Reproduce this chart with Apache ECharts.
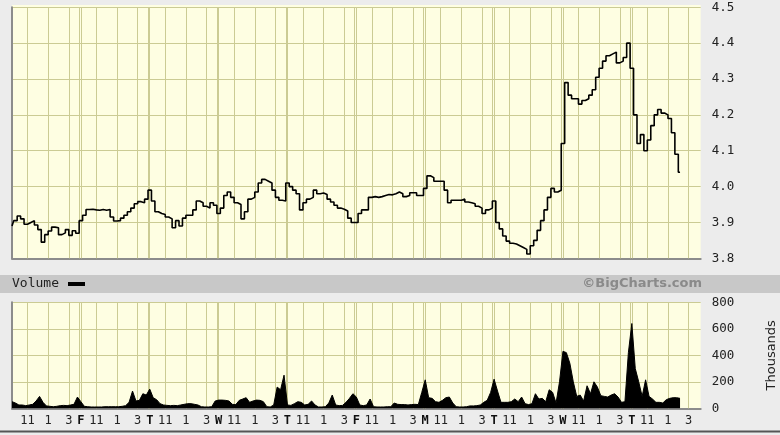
<!DOCTYPE html>
<html><head><meta charset="utf-8">
<script src="https://cdn.jsdelivr.net/npm/echarts@6/dist/echarts.min.js"></script>
<style>html,body{margin:0;padding:0;background:#ececec;}#c{width:780px;height:435px;}</style>
</head><body><div id="c"></div>
<script>
// ---- time structure (minutes after 9:30 open) ----
const sessionMinutes = 390;
const daySpan = 400;           // session + small overnight gap
const barMinutes = 20;
const hourTickMinutes = [90, 210, 330];
const hourTickLabels = ['11', '1', '3'];
const dayLetters = ['F', 'T', 'W', 'T', 'F', 'M', 'T', 'W', 'T']; // days 2..10
const priceTicks = [3.8, 4.5, 0.1];
const volumeTicks = [0, 800, 200];

// ---- price per day (20-minute samples) ----
const priceDays = [
  [3.89,3.905,3.918,3.91,3.895,3.90,3.905,3.893,3.88,3.845,3.866,3.876,3.887,3.885,3.866,3.871,3.88,3.864,3.877,3.87],
  [3.905,3.92,3.936,3.937,3.935,3.934,3.936,3.934,3.936,3.915,3.904,3.905,3.912,3.92,3.93,3.94,3.952,3.958,3.955,3.965],
  [3.99,3.96,3.93,3.925,3.922,3.915,3.91,3.885,3.905,3.89,3.912,3.92,3.92,3.935,3.96,3.955,3.945,3.94,3.955,3.948],
  [3.925,3.94,3.975,3.985,3.97,3.955,3.95,3.91,3.93,3.965,3.97,3.985,4.01,4.02,4.015,4.01,3.99,3.97,3.962,3.96],
  [4.01,4.0,3.99,3.98,3.935,3.955,3.965,3.97,3.99,3.98,3.982,3.978,3.965,3.957,3.948,3.94,3.937,3.932,3.912,3.90],
  [3.90,3.925,3.935,3.935,3.97,3.972,3.97,3.972,3.975,3.978,3.977,3.98,3.985,3.98,3.972,3.975,3.983,3.983,3.975,3.975],
  [3.995,4.03,4.025,4.015,4.015,4.015,3.99,3.955,3.962,3.962,3.962,3.965,3.957,3.955,3.952,3.945,3.94,3.925,3.935,3.94],
  [3.96,3.90,3.882,3.862,3.848,3.842,3.84,3.835,3.83,3.825,3.812,3.835,3.85,3.878,3.905,3.935,3.97,3.995,3.985,3.99],
  [4.12,4.29,4.255,4.245,4.245,4.23,4.24,4.245,4.255,4.27,4.305,4.33,4.35,4.365,4.37,4.375,4.345,4.35,4.36,4.40],
  [4.33,4.2,4.12,4.145,4.1,4.13,4.17,4.2,4.215,4.205,4.2,4.19,4.15,4.09,4.04]
];

// ---- volume per day, thousands (20-minute samples) ----
const volumeDays = [
  [50,40,25,25,20,25,30,55,90,45,18,15,12,15,20,22,20,25,30,85],
  [50,15,12,10,10,10,10,12,12,12,12,12,15,20,45,130,55,60,110,100],
  [145,80,65,35,25,22,20,22,20,25,30,35,35,30,25,12,10,10,12,55],
  [62,62,60,55,30,28,60,70,80,45,55,62,60,50,12,10,25,160,140,250],
  [25,22,35,50,45,25,30,55,25,10,10,12,40,100,25,20,22,45,75,110],
  [85,25,20,25,70,12,10,10,10,12,12,40,30,28,28,25,28,30,28,120],
  [215,80,75,50,45,60,80,85,40,12,10,10,12,18,18,20,25,45,60,120],
  [220,130,45,45,45,50,70,50,85,35,28,35,110,70,75,50,140,120,40,200],
  [430,420,340,200,90,100,55,170,110,200,160,95,90,85,100,110,85,45,50,420],
  [640,300,200,90,215,90,70,45,45,40,65,75,80,80,75]
];

// ---- build ----
function toSeries(days) {
  const out = [];
  days.forEach((arr, k) => arr.forEach((v, i) => out.push([k * daySpan + i * barMinutes, v])));
  return out;
}
const nDays = priceDays.length;
const xMax = nDays * daySpan;
const vLines = [];
const labelMap = {};
for (let k = 0; k < nDays; k++) {
  hourTickMinutes.forEach((m, j) => { vLines.push(k * daySpan + m); labelMap[k * daySpan + m] = hourTickLabels[j]; });
  if (k < nDays - 1) {
    vLines.push(k * daySpan + sessionMinutes);
    vLines.push((k + 1) * daySpan);
    labelMap[(k + 1) * daySpan] = '{b|' + dayLetters[k] + '}';
  }
}
const labelValues = Object.keys(labelMap).map(Number).sort((a, b) => a - b);

const gridColor = '#cbcb94';
const bgColor = '#fefee2';
const shadow = '#8c8c8c';
const mono = 'DejaVu Sans Mono';

const vMark = {
  silent: true, symbol: ['none', 'none'], animation: false,
  label: { show: false },
  lineStyle: { color: gridColor, width: 1, type: 'solid', opacity: 1 },
  emphasis: { disabled: true },
  data: vLines.map(v => ({ xAxis: v }))
};

const chart = echarts.init(document.getElementById('c'), null, { renderer: 'canvas' });
chart.setOption({
  backgroundColor: '#ececec',
  animation: false,
  grid: [
    { left: 12, top: 7.3, width: 688.7, height: 251, show: true, backgroundColor: bgColor, borderWidth: 0, outerBoundsMode: 'none', containLabel: false },
    { left: 12, top: 302.3, width: 688.7, height: 106, show: true, backgroundColor: bgColor, borderWidth: 0, outerBoundsMode: 'none', containLabel: false }
  ],
  xAxis: [
    { type: 'value', gridIndex: 0, min: 0, max: xMax,
      axisLine: { show: true, onZero: false, lineStyle: { color: shadow, width: 2 } },
      axisTick: { show: false }, axisLabel: { show: false }, splitLine: { show: false } },
    { type: 'value', gridIndex: 1, min: 0, max: xMax,
      axisLine: { show: true, onZero: false, lineStyle: { color: shadow, width: 2 } },
      axisTick: { show: false }, splitLine: { show: false },
      axisLabel: { customValues: labelValues, formatter: v => labelMap[v] || '',
        fontFamily: mono, fontSize: 12, color: '#222', margin: 7,
        rich: { b: { fontFamily: mono, fontSize: 12, fontWeight: 'bold', color: '#111' } } } }
  ],
  yAxis: [
    { type: 'value', gridIndex: 0, position: 'right', min: priceTicks[0], max: priceTicks[1], interval: priceTicks[2],
      axisLine: { show: true, lineStyle: { color: shadow, width: 2 } }, axisTick: { show: false },
      splitLine: { show: true, lineStyle: { color: gridColor, width: 1 } },
      axisLabel: { formatter: v => v.toFixed(1), fontFamily: mono, fontSize: 12.5, color: '#222', margin: 11 } },
    { type: 'value', gridIndex: 1, position: 'right', min: volumeTicks[0], max: volumeTicks[1], interval: volumeTicks[2],
      name: 'Thousands', nameLocation: 'middle', nameRotate: 90, nameGap: 64,
      nameTextStyle: { fontFamily: 'DejaVu Sans', fontSize: 13, color: '#222' },
      axisLine: { show: true, lineStyle: { color: shadow, width: 2 } }, axisTick: { show: false },
      splitLine: { show: true, lineStyle: { color: gridColor, width: 1 } },
      axisLabel: { fontFamily: mono, fontSize: 12.5, color: '#222', margin: 11 } }
  ],
  series: [
    { type: 'line', xAxisIndex: 0, yAxisIndex: 0, data: [], z: 1, markLine: vMark },
    { type: 'line', xAxisIndex: 1, yAxisIndex: 1, data: [], z: 1, markLine: vMark },
    { name: 'Price', type: 'line', xAxisIndex: 0, yAxisIndex: 0, step: 'middle', showSymbol: false, z: 5,
      lineStyle: { color: '#000', width: 1.6 }, data: toSeries(priceDays) },
    { name: 'Volume', type: 'line', xAxisIndex: 1, yAxisIndex: 1, showSymbol: false, z: 5,
      lineStyle: { color: '#000', width: 1 }, areaStyle: { color: '#000', opacity: 1 }, data: toSeries(volumeDays) }
  ],
  graphic: [
    { type: 'rect', shape: { x: 12, y: 5, width: 688.7, height: 2.3 }, style: { fill: bgColor }, silent: true },
    { type: 'rect', shape: { x: 0, y: 275, width: 780, height: 18 }, style: { fill: '#c8c8c8' }, silent: true },
    { type: 'text', x: 12, y: 284, style: { text: 'Volume', font: '13px "DejaVu Sans Mono"', fill: '#222', textVerticalAlign: 'middle' }, silent: true },
    { type: 'rect', shape: { x: 68, y: 282, width: 17, height: 4 }, style: { fill: '#000' }, silent: true },
    { type: 'text', x: 702, y: 284, style: { text: '©BigCharts.com', font: 'bold 13px "DejaVu Sans"', fill: '#8a8a8a', textAlign: 'right', textVerticalAlign: 'middle' }, silent: true },
    { type: 'rect', shape: { x: 0, y: 430.5, width: 780, height: 2 }, style: { fill: '#555' }, silent: true }
  ]
});
</script></body></html>
